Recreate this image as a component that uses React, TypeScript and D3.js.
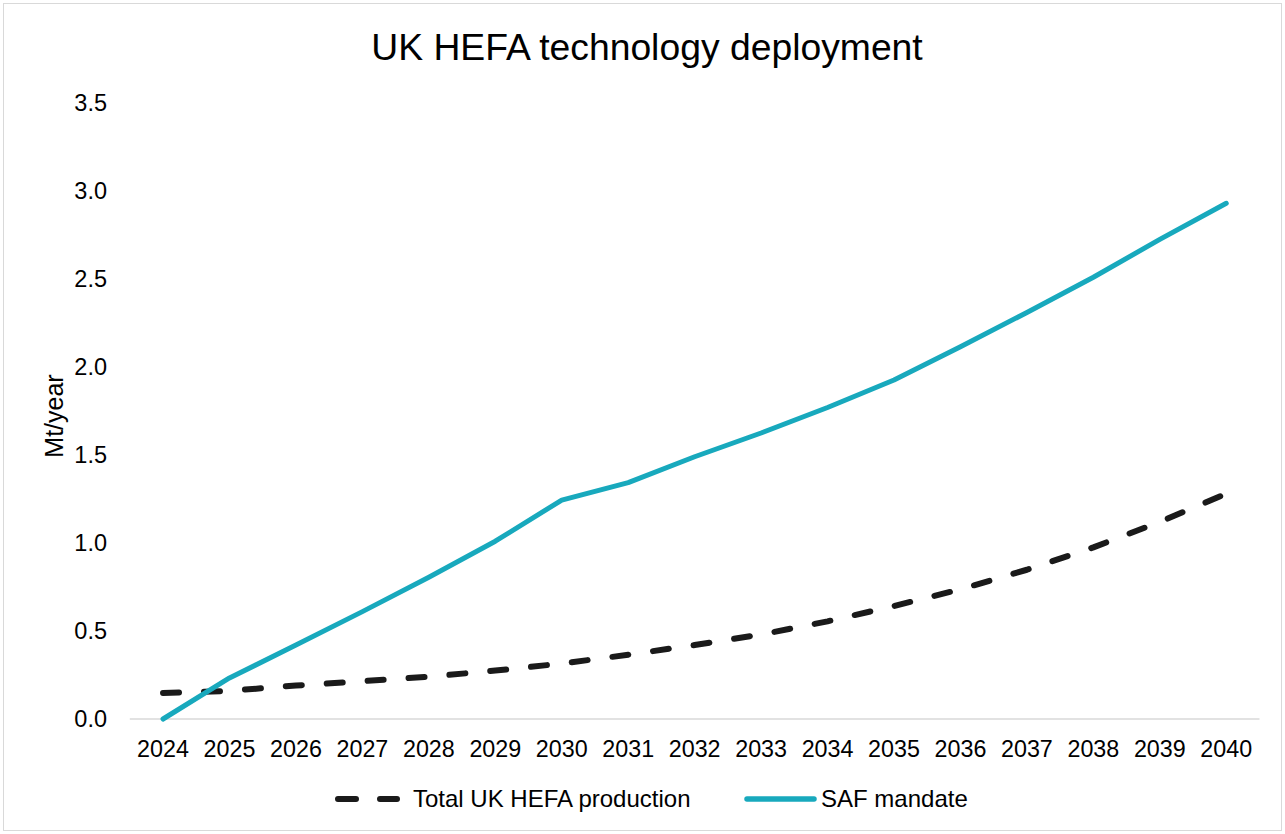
import React from 'react';
import * as d3 from 'd3';

const years = ['2024', '2025', '2026', '2027', '2028', '2029', '2030', '2031', '2032', '2033', '2034', '2035', '2036', '2037', '2038', '2039', '2040'];
const hefaProduction = [0.148, 0.16, 0.19, 0.215, 0.24, 0.275, 0.315, 0.365, 0.42, 0.48, 0.555, 0.642, 0.737, 0.848, 0.975, 1.12, 1.28];
const safMandate = [0, 0.233, 0.42, 0.61, 0.805, 1.01, 1.244, 1.343, 1.49, 1.625, 1.77, 1.926, 2.115, 2.31, 2.51, 2.725, 2.93];
const yTicks = [0, 0.5, 1.0, 1.5, 2.0, 2.5, 3.0, 3.5];

const W = 1285;
const H = 834;
const FONT = '"Liberation Sans", Arial, sans-serif';
const TEAL = '#18a9bd';
const DARK = '#1a1a1a';

export default function App() {
  const x = d3.scalePoint<string>().domain(years).range([129.8, 1259.5]).padding(0.5);
  const y = d3.scaleLinear().domain([0, 3.5]).range([719, 103]);

  const line = d3.line<number>()
    .x((_, i) => x(years[i]) as number)
    .y(d => y(d));

  return (
    <svg width={W} height={H} style={{ position: 'absolute', left: 0, top: 0, background: '#fff' }} fontFamily={FONT}>
      <rect x={3.5} y={3.5} width={W - 7} height={H - 7} fill="#fff" stroke="#d9d9d9" strokeWidth={1} />

      {/* title */}
      <text x={647} y={60} textAnchor="middle" fontSize={37.3} fill="#000">UK HEFA technology deployment</text>

      {/* y axis labels */}
      {yTicks.map(t => (
        <text key={t} x={107} y={y(t)} dy="0.35em" textAnchor="end" fontSize={23.5} fill="#000">{t.toFixed(1)}</text>
      ))}
      <text transform={`translate(63,${(y(0) + y(3.5)) / 2 + 5}) rotate(-90)`} textAnchor="middle" fontSize={25} fill="#000">Mt/year</text>

      {/* x axis */}
      <line x1={129.8} x2={1259.5} y1={y(0)} y2={y(0)} stroke="#d9d9d9" strokeWidth={1.5} />
      {years.map(yr => (
        <text key={yr} x={x(yr)} y={757} textAnchor="middle" fontSize={23.3} fill="#000">{yr}</text>
      ))}

      {/* series */}
      <path d={line(hefaProduction) || ''} fill="none" stroke={DARK} strokeWidth={6} strokeDasharray="16 25" strokeLinecap="round" strokeLinejoin="round" />
      <path d={line(safMandate) || ''} fill="none" stroke={TEAL} strokeWidth={5} strokeLinecap="round" strokeLinejoin="round" />

      {/* legend */}
      <line x1={338} x2={397} y1={799} y2={799} stroke={DARK} strokeWidth={6} strokeDasharray="18 24" strokeLinecap="round" />
      <text x={413} y={799} dy="0.35em" fontSize={24} fill="#000">Total UK HEFA production</text>
      <line x1={747} x2={814} y1={799} y2={799} stroke={TEAL} strokeWidth={5.5} strokeLinecap="round" />
      <text x={821} y={799} dy="0.35em" fontSize={24} fill="#000">SAF mandate</text>
    </svg>
  );
}
